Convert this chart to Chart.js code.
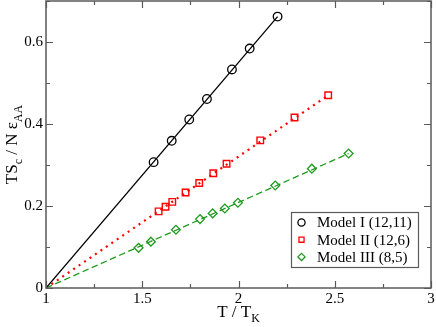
<!DOCTYPE html>
<html>
<head>
<meta charset="utf-8">
<script src="https://cdn.jsdelivr.net/npm/chart.js@4.4.1/dist/chart.umd.min.js"></script>
<style>
  html, body { margin: 0; padding: 0; background: #fff; }
  #wrap { width: 436px; height: 327px; }
</style>
</head>
<body>
<div id="wrap"><canvas id="c" width="436" height="327"></canvas></div>
<script>
// ---- data ----
const seriesNames = ['Model I (12,11)', 'Model II (12,6)', 'Model III (8,5)'];

const modelI_T = [1.559, 1.653, 1.744, 1.836, 1.966, 2.058, 2.203];
const modelI_S = [0.307, 0.359, 0.411, 0.461, 0.533, 0.584, 0.662];

const modelII_T = [1.585, 1.621, 1.656, 1.725, 1.796, 1.869, 1.938, 2.113, 2.291, 2.466];
const modelII_S = [0.187, 0.198, 0.210, 0.233, 0.256, 0.280, 0.303, 0.360, 0.416, 0.470];

const modelIII_T = [1.481, 1.545, 1.675, 1.800, 1.866, 1.929, 1.997, 2.191, 2.381, 2.572];
const modelIII_S = [0.098, 0.113, 0.142, 0.168, 0.182, 0.194, 0.208, 0.250, 0.291, 0.328];

// straight fit lines starting at T/TK = 1
const fitI_T = [1, 2.203],   fitI_S = [0, 0.662];
const fitII_T = [1, 2.466],  fitII_S = [0, 0.470];
const fitIII_T = [1, 2.572], fitIII_S = [0, 0.328];

const xTicks = [1, 1.5, 2, 2.5, 3];
const xMinor = [1.25, 1.75, 2.25, 2.75];
const yTicks = [0, 0.2, 0.4, 0.6];
const yMinor = [0.1, 0.3, 0.5, 0.7];

const BLACK = '#000000', RED = '#ff0000', GREEN = '#1f9a1f';
const SERIF = '"Liberation Serif", "Times New Roman", serif';

const pts = (xs, ys) => xs.map((x, i) => ({ x: x, y: ys[i] }));

const datasets = [
  { label: 'fitI', data: pts(fitI_T, fitI_S), showLine: true, borderColor: BLACK, borderWidth: 1.3, pointRadius: 0, fill: false },
  { label: 'fitII', data: pts(fitII_T, fitII_S), showLine: true, borderColor: RED, borderWidth: 2.2, borderDash: [2, 4.6], pointRadius: 0, fill: false },
  { label: 'fitIII', data: pts(fitIII_T, fitIII_S), showLine: true, borderColor: GREEN, borderWidth: 1.3, borderDash: [6.5, 3.5], pointRadius: 0, fill: false },
  { label: seriesNames[0], data: pts(modelI_T, modelI_S), showLine: false, pointStyle: 'circle', pointRadius: 4.3, borderColor: BLACK, borderWidth: 1.3, backgroundColor: 'rgba(0,0,0,0)' },
  { label: seriesNames[1], data: pts(modelII_T, modelII_S), showLine: false, pointStyle: 'rect', pointRadius: 4.6, borderColor: RED, borderWidth: 1.4, backgroundColor: 'rgba(0,0,0,0)' },
  { label: seriesNames[2], data: pts(modelIII_T, modelIII_S), showLine: false, pointStyle: 'rectRot', pointRadius: 4.4, borderColor: GREEN, borderWidth: 1.3, backgroundColor: 'rgba(0,0,0,0)' }
];

function drawRich(ctx, parts, size, subSize, subShift) {
  let x = 0;
  parts.forEach(p => {
    ctx.font = (p.sub ? subSize : size) + 'px ' + SERIF;
    ctx.fillText(p.t, x, p.sub ? subShift : 0);
    x += ctx.measureText(p.t).width;
  });
  return x;
}
function measureRich(ctx, parts, size, subSize) {
  let w = 0;
  parts.forEach(p => {
    ctx.font = (p.sub ? subSize : size) + 'px ' + SERIF;
    w += ctx.measureText(p.t).width;
  });
  return w;
}

const framePlugin = {
  id: 'frame',
  afterDraw(chart) {
    const ctx = chart.ctx;
    const a = chart.chartArea;
    const xs = chart.scales.x, ys = chart.scales.y;
    ctx.save();
    ctx.strokeStyle = '#5a5a5a';
    ctx.lineWidth = 1.5;
    ctx.strokeRect(a.left, a.top, a.right - a.left, a.bottom - a.top);
    ctx.lineWidth = 1.2;
    ctx.beginPath();
    const tick = (vals, len, horiz) => {
      vals.forEach(v => {
        if (horiz) {
          const px = Math.round(xs.getPixelForValue(v)) + 0.5;
          ctx.moveTo(px, a.bottom); ctx.lineTo(px, a.bottom - len);
          ctx.moveTo(px, a.top); ctx.lineTo(px, a.top + len);
        } else {
          const py = Math.round(ys.getPixelForValue(v)) + 0.5;
          ctx.moveTo(a.left, py); ctx.lineTo(a.left + len, py);
          ctx.moveTo(a.right, py); ctx.lineTo(a.right - len, py);
        }
      });
    };
    tick(xTicks, 7, true); tick(xMinor, 4, true);
    tick(yTicks, 7, false); tick(yMinor, 4, false);
    ctx.stroke();

    // axis titles
    ctx.fillStyle = '#000';
    ctx.textBaseline = 'alphabetic';
    ctx.textAlign = 'left';
    const xt = [{ t: 'T / T' }, { t: 'K', sub: true }];
    const wx = measureRich(ctx, xt, 17, 12);
    ctx.save();
    ctx.translate((a.left + a.right) / 2 - wx / 2, 317);
    drawRich(ctx, xt, 17, 12, 5);
    ctx.restore();

    const yt = [{ t: 'TS' }, { t: 'c', sub: true }, { t: ' / N ' }, { t: '\u03b5' }, { t: 'AA', sub: true }];
    const wy = measureRich(ctx, yt, 17, 12);
    ctx.save();
    ctx.translate(17, (a.top + a.bottom) / 2 + wy / 2);
    ctx.rotate(-Math.PI / 2);
    drawRich(ctx, yt, 17, 12, 5);
    ctx.restore();

    // legend
    const lx = 291, ly = 212, lw = 127, lh = 55;
    ctx.fillStyle = '#fff';
    ctx.fillRect(lx, ly, lw, lh);
    ctx.strokeStyle = '#5a5a5a';
    ctx.lineWidth = 1.2;
    ctx.strokeRect(lx + 0.5, ly + 0.5, lw, lh);
    const rows = [datasets[3], datasets[4], datasets[5]];
    rows.forEach((ds, i) => {
      const cy = ly + 10.5 + i * 17.2;
      ctx.save();
      ctx.strokeStyle = ds.borderColor;
      ctx.fillStyle = 'rgba(0,0,0,0)';
      ctx.lineWidth = 1.3;
      Chart.helpers.drawPoint(ctx, { pointStyle: ds.pointStyle, rotation: 0, borderWidth: 1.3, radius: 3.6 }, lx + 10.5, cy);
      ctx.restore();
      ctx.fillStyle = '#000';
      ctx.font = '15px ' + SERIF;
      ctx.textBaseline = 'middle';
      ctx.fillText(ds.label, lx + 26, cy + 1);
    });
    ctx.restore();
  }
};

const zeroPad = s => { s.paddingLeft = 0; s.paddingRight = 0; s.paddingTop = 0; s.paddingBottom = 0; };

new Chart(document.getElementById('c'), {
  type: 'scatter',
  data: { datasets: datasets },
  plugins: [framePlugin],
  options: {
    responsive: false,
    animation: false,
    events: [],
    layout: { autoPadding: false, padding: { top: 1, right: 5, left: 0, bottom: 0 } },
    plugins: { legend: { display: false }, tooltip: { enabled: false } },
    scales: {
      x: {
        type: 'linear', min: 1, max: 3,
        afterFit: s => { s.height = 39; zeroPad(s); },
        afterBuildTicks: s => { s.ticks = xTicks.map(v => ({ value: v })); },
        grid: { display: false, drawTicks: false },
        border: { display: false },
        ticks: { color: '#000', padding: 2, font: { family: SERIF, size: 15 }, maxRotation: 0, callback: v => String(v) }
      },
      y: {
        type: 'linear', min: 0, max: 0.7,
        afterFit: s => { s.width = 46; zeroPad(s); },
        afterBuildTicks: s => { s.ticks = yTicks.map(v => ({ value: v })); },
        grid: { display: false, drawTicks: false },
        border: { display: false },
        ticks: { color: '#000', padding: 3, font: { family: SERIF, size: 15 }, callback: v => String(v) }
      }
    }
  }
});
</script>
</body>
</html>
